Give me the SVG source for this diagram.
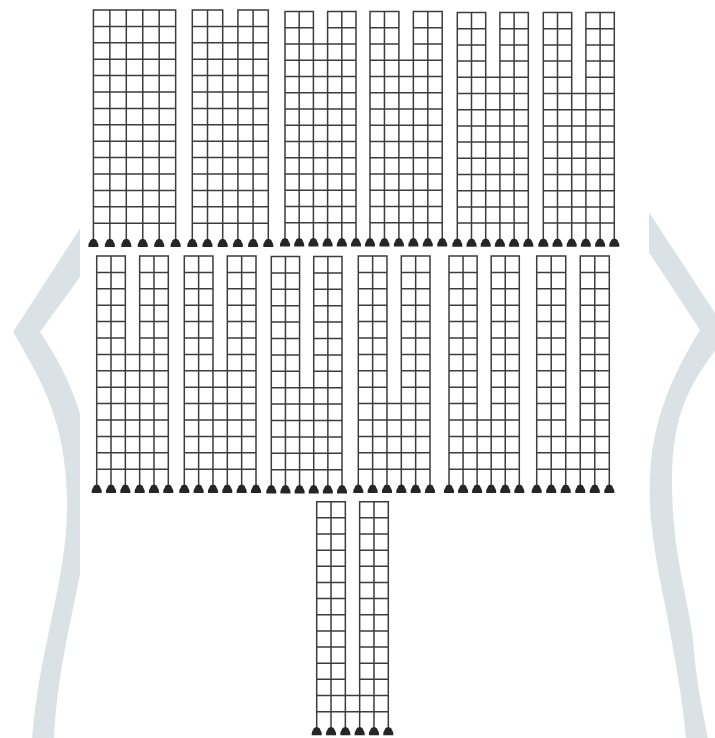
<svg xmlns="http://www.w3.org/2000/svg" xmlns:xlink="http://www.w3.org/1999/xlink" width="715" height="738" viewBox="0 0 715 738">
<style>
.f{fill:none;stroke:#3d3d3d;stroke-width:1.5;stroke-linecap:square;vector-effect:non-scaling-stroke}
.sup{fill:#262626}
.band{fill:#dbe2e6}
</style>
<defs>
<clipPath id="clipL"><rect x="0" y="0" width="80" height="738"/></clipPath>
<clipPath id="clipR"><rect x="649" y="0" width="66" height="738"/></clipPath>
<path id="base" class="f" d="M0,0V14M1,0V14M2,0V14M3,0V14M4,0V14M5,0V14M0,0H2M3,0H5M0,1H2M3,1H5M0,2H2M3,2H5M0,3H2M3,3H5M0,4H2M3,4H5M0,5H2M3,5H5M0,6H2M3,6H5M0,7H2M3,7H5M0,8H2M3,8H5M0,9H2M3,9H5M0,10H2M3,10H5M0,11H2M3,11H5M0,12H2M3,12H5M0,13H2M3,13H5"/>
<path id="s" class="sup" d="M-5,9L-5,7C-5,5 -3.6,4.2 -3.2,2.5C-2.8,0.3 2.8,0.3 3.2,2.5C3.6,4.2 5,5 5,7L5,9Z"/>
</defs>
<g id="background">
<path class="band" clip-path="url(#clipL)" d="M110,182L13,332C40,378 66,420 67,500C68,580 40,640 32,740L54,740C58,640 92,560 90,480C88,410 62,365 40,332L120,222Z"/>
<path class="band" clip-path="url(#clipR)" d="M590,122L728,333C700,372 672,400 672,480C672,560 690,600 694,650C697,690 705,720 708,740L686,740C683,700 675,660 666,610C656,560 648,520 650,480C651,420 675,370 700,330L620,208Z"/>
</g>
<g id="frame-01">
<g transform="translate(93.4,10) scale(16.45,16.4)"><use href="#base"/><path class="f" d="M2,0H3M2,1H3M2,2H3M2,3H3M2,4H3M2,5H3M2,6H3M2,7H3M2,8H3M2,9H3M2,10H3M2,11H3M2,12H3M2,13H3"/></g>
<use href="#s" x="93.4" y="238.1"/><use href="#s" x="109.85" y="238.1"/><use href="#s" x="126.3" y="238.1"/><use href="#s" x="142.75" y="238.1"/><use href="#s" x="159.2" y="238.1"/><use href="#s" x="175.65" y="238.1"/>
</g>
<g id="frame-02">
<g transform="translate(192.3,10) scale(15.2,16.4)"><use href="#base"/><path class="f" d="M2,1H3M2,2H3M2,3H3M2,4H3M2,5H3M2,6H3M2,7H3M2,8H3M2,9H3M2,10H3M2,11H3M2,12H3M2,13H3"/></g>
<use href="#s" x="192.3" y="238.1"/><use href="#s" x="207.5" y="238.1"/><use href="#s" x="222.7" y="238.1"/><use href="#s" x="237.9" y="238.1"/><use href="#s" x="253.1" y="238.1"/><use href="#s" x="268.3" y="238.1"/>
</g>
<g id="frame-03">
<g transform="translate(285,11.5) scale(14.2,16.25)"><use href="#base"/><path class="f" d="M2,2H3M2,3H3M2,4H3M2,5H3M2,6H3M2,7H3M2,8H3M2,9H3M2,10H3M2,11H3M2,12H3M2,13H3"/></g>
<use href="#s" x="285" y="237.5"/><use href="#s" x="299.2" y="237.5"/><use href="#s" x="313.4" y="237.5"/><use href="#s" x="327.6" y="237.5"/><use href="#s" x="341.8" y="237.5"/><use href="#s" x="356" y="237.5"/>
</g>
<g id="frame-04">
<g transform="translate(370,11.5) scale(14.45,16.25)"><use href="#base"/><path class="f" d="M2,3H3M2,4H3M2,5H3M2,6H3M2,7H3M2,8H3M2,9H3M2,10H3M2,11H3M2,12H3M2,13H3"/></g>
<use href="#s" x="370" y="237.5"/><use href="#s" x="384.45" y="237.5"/><use href="#s" x="398.9" y="237.5"/><use href="#s" x="413.35" y="237.5"/><use href="#s" x="427.8" y="237.5"/><use href="#s" x="442.25" y="237.5"/>
</g>
<g id="frame-05">
<g transform="translate(457.3,12.5) scale(14.2,16.2)"><use href="#base"/><path class="f" d="M2,4H3M2,5H3M2,6H3M2,7H3M2,8H3M2,9H3M2,10H3M2,11H3M2,12H3M2,13H3"/></g>
<use href="#s" x="457.3" y="237.8"/><use href="#s" x="471.5" y="237.8"/><use href="#s" x="485.7" y="237.8"/><use href="#s" x="499.9" y="237.8"/><use href="#s" x="514.1" y="237.8"/><use href="#s" x="528.3" y="237.8"/>
</g>
<g id="frame-06">
<g transform="translate(543.3,12.5) scale(14.2,16.2)"><use href="#base"/><path class="f" d="M2,5H3M2,6H3M2,7H3M2,8H3M2,9H3M2,10H3M2,11H3M2,12H3M2,13H3"/></g>
<use href="#s" x="543.3" y="237.8"/><use href="#s" x="557.5" y="237.8"/><use href="#s" x="571.7" y="237.8"/><use href="#s" x="585.9" y="237.8"/><use href="#s" x="600.1" y="237.8"/><use href="#s" x="614.3" y="237.8"/>
</g>
<g id="frame-07">
<g transform="translate(96.7,256) scale(14.32,16.4)"><use href="#base"/><path class="f" d="M2,6H3M2,7H3M2,8H3M2,9H3M2,10H3M2,11H3M2,12H3M2,13H3"/></g>
<use href="#s" x="96.7" y="484"/><use href="#s" x="111.02" y="484"/><use href="#s" x="125.34" y="484"/><use href="#s" x="139.66" y="484"/><use href="#s" x="153.98" y="484"/><use href="#s" x="168.3" y="484"/>
</g>
<g id="frame-08">
<g transform="translate(184.3,256) scale(14.34,16.4)"><use href="#base"/><path class="f" d="M2,7H3M2,8H3M2,9H3M2,10H3M2,11H3M2,12H3M2,13H3"/></g>
<use href="#s" x="184.3" y="484"/><use href="#s" x="198.64" y="484"/><use href="#s" x="212.98" y="484"/><use href="#s" x="227.32" y="484"/><use href="#s" x="241.66" y="484"/><use href="#s" x="256" y="484"/>
</g>
<g id="frame-09">
<g transform="translate(271.3,256.5) scale(14.14,16.4)"><use href="#base"/><path class="f" d="M2,8H3M2,9H3M2,10H3M2,11H3M2,12H3M2,13H3"/></g>
<use href="#s" x="271.3" y="484.5"/><use href="#s" x="285.44" y="484.5"/><use href="#s" x="299.58" y="484.5"/><use href="#s" x="313.72" y="484.5"/><use href="#s" x="327.86" y="484.5"/><use href="#s" x="342" y="484.5"/>
</g>
<g id="frame-10">
<g transform="translate(358.3,256) scale(14.34,16.4)"><use href="#base"/><path class="f" d="M2,9H3M2,10H3M2,11H3M2,12H3M2,13H3"/></g>
<use href="#s" x="358.3" y="484"/><use href="#s" x="372.64" y="484"/><use href="#s" x="386.98" y="484"/><use href="#s" x="401.32" y="484"/><use href="#s" x="415.66" y="484"/><use href="#s" x="430" y="484"/>
</g>
<g id="frame-11">
<g transform="translate(449,256) scale(14.06,16.4)"><use href="#base"/><path class="f" d="M2,10H3M2,11H3M2,12H3M2,13H3"/></g>
<use href="#s" x="449" y="484"/><use href="#s" x="463.06" y="484"/><use href="#s" x="477.12" y="484"/><use href="#s" x="491.18" y="484"/><use href="#s" x="505.24" y="484"/><use href="#s" x="519.3" y="484"/>
</g>
<g id="frame-12">
<g transform="translate(536.7,256) scale(14.52,16.4)"><use href="#base"/><path class="f" d="M2,11H3M2,12H3M2,13H3"/></g>
<use href="#s" x="536.7" y="484"/><use href="#s" x="551.22" y="484"/><use href="#s" x="565.74" y="484"/><use href="#s" x="580.26" y="484"/><use href="#s" x="594.78" y="484"/><use href="#s" x="609.3" y="484"/>
</g>
<g id="frame-13">
<g transform="translate(316.7,501.7) scale(14.32,16.15)"><use href="#base"/><path class="f" d="M2,12H3M2,13H3"/></g>
<use href="#s" x="316.7" y="726.3"/><use href="#s" x="331.02" y="726.3"/><use href="#s" x="345.34" y="726.3"/><use href="#s" x="359.66" y="726.3"/><use href="#s" x="373.98" y="726.3"/><use href="#s" x="388.3" y="726.3"/>
</g>
<g id="connectors"></g>
</svg>
